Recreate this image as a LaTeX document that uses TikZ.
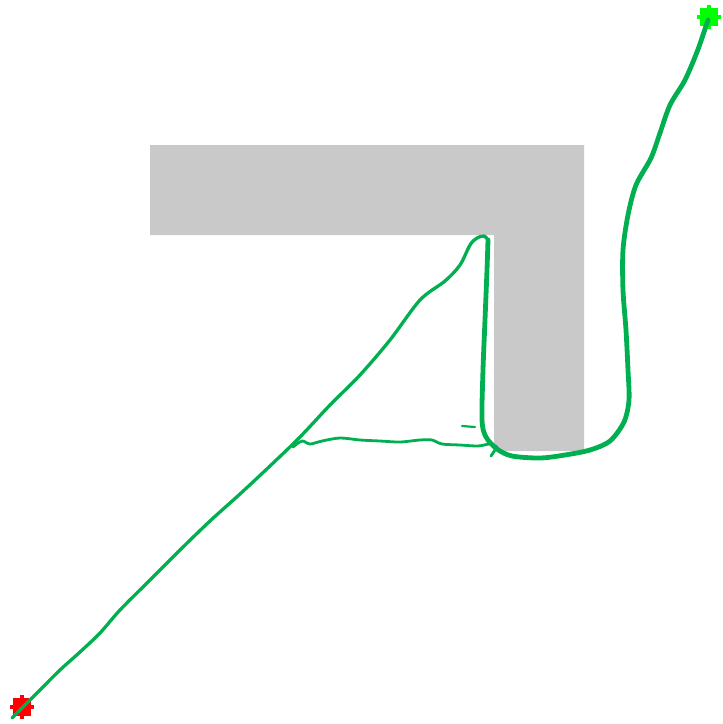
\documentclass[tikz,border=0pt]{standalone}
\begin{document}
\begin{tikzpicture}[x=1pt,y=-1pt,
  obstacle/.style={fill=black!21,draw=none},
  pathline/.style={draw={rgb,255:red,0;green,176;blue,80},line cap=round,line join=round},
  marker/.style={fill=#1,draw=none}]
\useasboundingbox (0,0) rectangle (723,724);
% obstacle
\fill[obstacle] (150,145) -- (584,145) -- (584,451) -- (494,451) -- (494,235) -- (150,235) -- cycle;
% start / goal markers
\begin{scope}[shift={(22,707)}]
  \fill[marker=red] (-9,-9) rectangle (9,9);
  \fill[marker=red] (-12,-2) rectangle (12,2);
  \fill[marker=red] (-2,-12) rectangle (2,12);
\end{scope}
\begin{scope}[shift={(709,17)}]
  \fill[marker=green] (-9,-9) rectangle (9,9);
  \fill[marker=green] (-12,-2) rectangle (12,2);
  \fill[marker=green] (-2,-12) rectangle (2,12);
\end{scope}
% thin diagonal path
\draw[pathline,line width=3.3pt] plot[smooth,tension=0.5] coordinates {
 (12,718) (25,705) (40,690) (60,670) (80,652) (100,633) (120,610) (150,580)
 (180,550) (210,521) (240,494) (270,466) (300,437) (330,405) (360,375)
 (390,340) (420,300) (445,281) (460,265) (470,245) (477,238) (484,236) (488,240)};
% thick main path
\draw[pathline,line width=4.8pt] plot[smooth,tension=0.5] coordinates {
 (488,240) (487,270) (485,320) (483,370) (482,420) (486,437) (497,449) (512,456)
 (540,458) (565,455) (590,450) (610,441) (624,422) (629,400) (628,370) (626,330)
 (623,290) (623,250) (628,215) (636,185) (651,158) (660,133) (670,105) (685,80)
 (697,52) (704,32) (708,20)};
% thin horizontal wiggle
\draw[pathline,line width=2.8pt] plot[smooth,tension=0.5] coordinates {
 (293,447) (302,441) (310,444) (322,441) (340,438) (360,440) (380,441)
 (400,442) (420,440) (432,440) (442,444) (460,445) (478,446) (490,444) (497,447)};
\draw[pathline,line width=2.8pt] (497,447) -- (491,456);
\draw[pathline,line width=2.2pt] (462,426) -- (475,427);
\end{tikzpicture}
\end{document}
